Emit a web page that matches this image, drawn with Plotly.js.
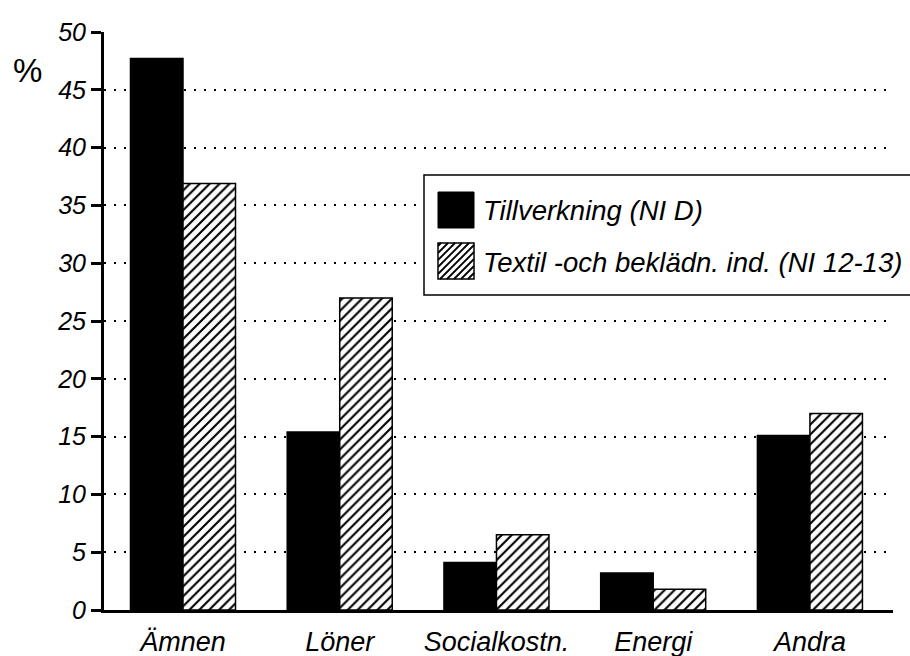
<!DOCTYPE html>
<html>
<head>
<meta charset="utf-8">
<script src="https://cdn.plot.ly/plotly-3.0.1.min.js"></script>
<style>
  html, body { margin: 0; padding: 0; background: #fff; }
  #chart { width: 910px; height: 656px; }
</style>
</head>
<body>
<div id="chart"></div>
<script>
// ---- data ----
var categories = ['Ämnen', 'Löner', 'Socialkostn.', 'Energi', 'Andra'];
var tillverkning = [47.7, 15.4, 4.1, 3.2, 15.1];
var textil = [36.9, 27.0, 6.5, 1.8, 17.0];
var yTickVals = [0, 5, 10, 15, 20, 25, 30, 35, 40, 45, 50];
var seriesNames = ['Tillverkning (NI D)', 'Textil -och beklädn. ind. (NI 12-13)'];
var yUnit = '%';

// ---- layout geometry (pixels) ----
var W = 910, H = 656;
var L = 104, R = 893, T = 32, B = 610;
function px(x) { return (x - L) / (R - L); }
function py(y) { return (B - y) / (B - T); }

var FONT = '"Liberation Sans", Arial, Helvetica, sans-serif';

var traces = [
  {
    type: 'bar', x: categories, y: tillverkning, name: seriesNames[0],
    marker: { color: '#000', line: { color: '#000', width: 1.5 } },
    showlegend: false, hoverinfo: 'x+y'
  },
  {
    type: 'bar', x: categories, y: textil, name: seriesNames[1],
    marker: {
      color: '#fff',
      line: { color: '#000', width: 1.5 },
      pattern: { shape: '/', fgcolor: '#000', bgcolor: '#fff', size: 7, solidity: 0.3 }
    },
    showlegend: false, hoverinfo: 'x+y'
  }
];

// legend box and swatches (decoration, pixel geometry)
var shapes = [
  { type: 'rect', xref: 'paper', yref: 'paper',
    x0: px(424), x1: px(915), y0: py(295), y1: py(175),
    line: { color: '#000', width: 1.5 }, fillcolor: '#fff', layer: 'above' },
  { type: 'rect', xref: 'paper', yref: 'paper',
    x0: px(438), x1: px(474), y0: py(228), y1: py(192),
    line: { color: '#000', width: 1 }, fillcolor: '#000', layer: 'above' },
  { type: 'rect', xref: 'paper', yref: 'paper',
    x0: px(438), x1: px(474), y0: py(279), y1: py(243),
    line: { color: '#000', width: 1.5 }, fillcolor: '#fff', layer: 'above' }
];
var sx = 438, sy = 243, ss = 36, step = 7;
for (var k = -ss + 3; k < ss; k += step) {
  var t0 = Math.max(0, -k), t1 = Math.min(ss, ss - k);
  if (t1 - t0 < 1) continue;
  shapes.push({ type: 'line', xref: 'paper', yref: 'paper',
    x0: px(sx + k + t0), y0: py(sy + ss - t0),
    x1: px(sx + k + t1), y1: py(sy + ss - t1),
    line: { color: '#000', width: 1.8 }, layer: 'above' });
}

var layout = {
  width: W, height: H,
  margin: { l: L, r: W - R, t: T, b: H - B, pad: 0 },
  paper_bgcolor: '#fff', plot_bgcolor: '#fff',
  barmode: 'group', bargap: 0.33, bargroupgap: 0,
  font: { family: FONT, color: '#000' },
  showlegend: false,
  xaxis: {
    type: 'category', range: [-0.504, 4.53],
    showline: true, linecolor: '#000', linewidth: 3,
    showgrid: false, zeroline: false, ticks: '',
    tickvals: categories, ticktext: categories.map(function (c) { return '<i>' + c + '</i>'; }),
    tickfont: { family: FONT, size: 27, style: 'italic', color: '#000' },
    ticklabelstandoff: 6,
    fixedrange: true
  },
  yaxis: {
    range: [0, 50], tickvals: yTickVals,
    ticktext: yTickVals.map(function (v) { return '<i>' + v + '</i>'; }),
    showline: true, linecolor: '#000', linewidth: 3,
    ticks: 'outside', ticklen: 10, tickwidth: 3, tickcolor: '#000',
    showgrid: true, gridcolor: '#000', gridwidth: 2, griddash: '2px,8px',
    zeroline: false,
    tickfont: { family: FONT, size: 25, style: 'italic', color: '#000' },
    fixedrange: true
  },
  shapes: shapes,
  annotations: [
    { text: '<i>' + seriesNames[0] + '</i>', xref: 'paper', yref: 'paper', x: px(481), y: py(210),
      xanchor: 'left', yanchor: 'middle', showarrow: false,
      font: { family: FONT, size: 27.5, style: 'italic', color: '#000' } },
    { text: '<i>' + seriesNames[1] + '</i>', xref: 'paper', yref: 'paper', x: px(481), y: py(262),
      xanchor: 'left', yanchor: 'middle', showarrow: false,
      font: { family: FONT, size: 27.5, style: 'italic', color: '#000' } },
    { text: yUnit, xref: 'paper', yref: 'paper', x: px(27), y: py(70),
      xanchor: 'center', yanchor: 'middle', showarrow: false,
      font: { family: FONT, size: 33, color: '#000' } }
  ]
};

Plotly.newPlot('chart', traces, layout, { displayModeBar: false, staticPlot: true });
</script>
</body>
</html>
